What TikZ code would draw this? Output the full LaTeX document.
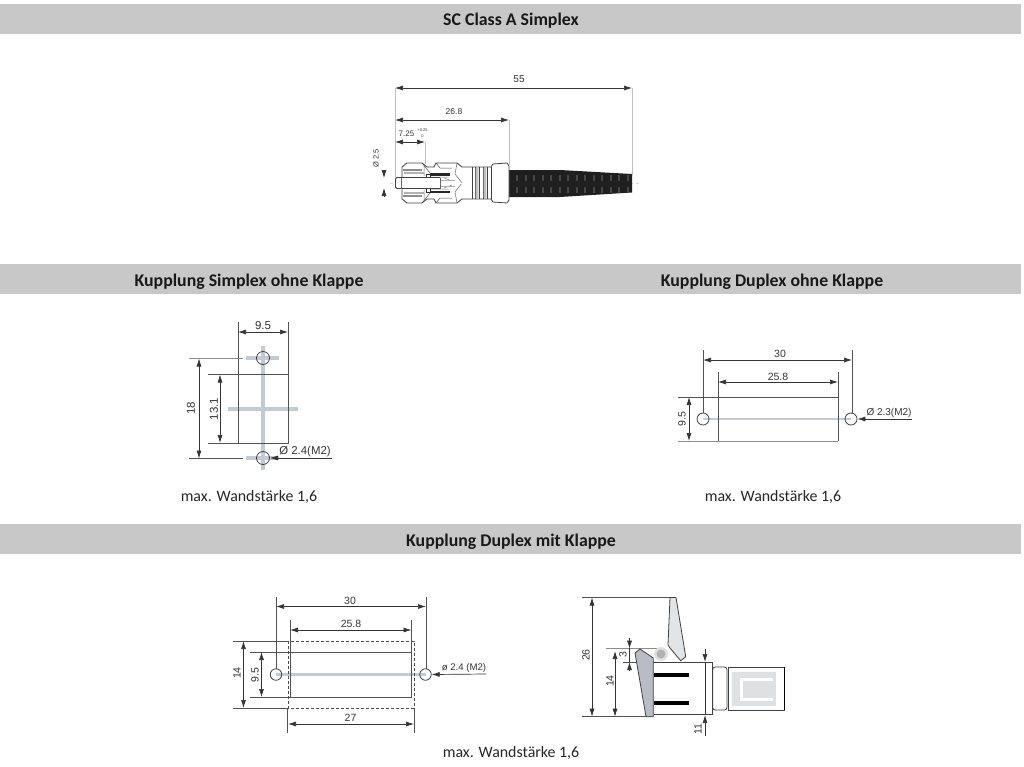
\documentclass[tikz,border=0pt]{standalone}
\usepackage{fontspec}
\setmainfont{Carlito}
\newfontfamily\dimfont{Liberation Sans}
\usetikzlibrary{arrows.meta}
\definecolor{barcol}{HTML}{C8C8C8}
\definecolor{dimcol}{HTML}{333333}
\definecolor{crosscol}{HTML}{C2CAD3}
\definecolor{flapa}{HTML}{E2E5E8}
\definecolor{flapb}{HTML}{B8BDC5}
\definecolor{inner}{HTML}{DDE1E4}
\tikzset{
  x=1pt,y=-1pt,
  headbar/.style={fill=barcol,draw=none},
  headtext/.style={font=\fontsize{17.8}{20}\selectfont\bfseries,text=black!90,inner sep=0pt},
  note/.style={font=\fontsize{15.9}{18}\selectfont,text=black!85,inner sep=0pt},
  dimtext/.style={font=\dimfont\fontsize{10.5}{12}\selectfont,text=dimcol,inner sep=0pt},
  dimsmall/.style={font=\dimfont\fontsize{8.5}{10}\selectfont,text=dimcol,inner sep=0pt},
  dimline/.style={draw=dimcol,line width=0.7pt,{Latex[length=8pt,width=5pt]}-{Latex[length=8pt,width=5pt]}},
  dimend/.style={draw=dimcol,line width=0.7pt,-{Latex[length=8pt,width=5pt]}},
  ext/.style={draw=dimcol!85,line width=0.8pt},
  extlight/.style={draw=black!25,line width=0.5pt},
  body/.style={draw=black!75,line width=0.8pt},
  cross/.style={draw=crosscol,line width=3.2pt},
  hole/.style={draw=black!75,line width=0.8pt,circle},
}
\newcommand{\halfbody}{%
  \draw[body,fill=white] (402,183) -- (402,167) -- (407,163) -- (422,163) -- (427,167) -- (434,167) -- (436,163) -- (457,163) -- (462,167) -- (491,167) -- (493,164) -- (507,163) -- (509,166) -- (509,183);
  \fill[black!45] (403,169) rectangle (422,171);
  \fill[black!30] (404,172) rectangle (424,174);
  \draw[black!70,line width=0.5pt] (422,163) -- (430,173) (436,163) -- (440,168) -- (452,168);
  \fill[black!85] (430,173) rectangle (450,175.5);
  \draw[black!50,line width=0.5pt] (431,177) -- (449,177) (444,178) -- (452,181);
  \draw[black!85,fill=white,line width=0.7pt] (426,174) rectangle (430,178);
  \draw[black!60,line width=0.5pt] (424,166) -- (424,176) (457,163) -- (455,174) -- (462,183);
}
\begin{document}
\begin{tikzpicture}
\useasboundingbox (0,0) rectangle (1024,766);
% header bars
\fill[headbar] (0,4) rectangle (1021,34);
\fill[headbar] (0,264) rectangle (1021,294);
\fill[headbar] (0,524) rectangle (1021,554);
\node[headtext] (h1) at (511,21) {SC Class A Simplex};
\node[headtext] (h2) at (249,282) {Kupplung Simplex ohne Klappe};
\node[headtext] (h3) at (772,282) {Kupplung Duplex ohne Klappe};
\node[headtext] (h4) at (511,542) {Kupplung Duplex mit Klappe};
\node[note] (n1) at (249,497) {max. Wandstärke 1,6};
\node[note] (n2) at (773,497) {max. Wandstärke 1,6};
\node[note] (n3) at (511,753) {max. Wandstärke 1,6};

% ===== SC connector =====
\draw[extlight] (395,88) -- (395,178) (632,88) -- (632,175) (509,120) -- (509,165) (425,142) -- (425,164);
\draw[draw=black!15,line width=0.4pt,dashed] (390,183) -- (640,183);
\draw[dimline] (395,88) -- (632,88);
\draw[dimline] (395,120) -- (509,120);
\draw[dimline] (395,142) -- (425,142);
\node[dimtext,font=\dimfont\fontsize{10}{12}\selectfont] (d55) at (519,79) {55};
\node[dimsmall] (d268) at (454,111.5) {26.8};
\node[dimsmall,font=\dimfont\fontsize{8}{10}\selectfont] (d725) at (406.5,133.5) {7.25};
\node[dimsmall,font=\dimfont\fontsize{4}{4.5}\selectfont] (d725t) at (422.5,130.5) {+0.25};
\node[dimsmall,font=\dimfont\fontsize{4}{4.5}\selectfont] (d725b) at (422.5,136.5) {0};
\node[dimsmall,rotate=90,font=\dimfont\fontsize{7.5}{9}\selectfont] (d25) at (376,158) {Ø 2.5};
\draw[dimend] (384,170) -- (384,178);
\draw[dimend] (384,196) -- (384,188);
% cable
\fill[black!88] (509,170) -- (560,170) -- (632,174) -- (632,192.5) -- (560,197) -- (509,197) -- cycle;
\foreach \xx in {516,524.5,...,628}{
  \fill[black!72] (\xx,175) rectangle ++(2.4,6);
  \fill[black!72] (\xx,187) rectangle ++(2.4,6);
}
% body
\halfbody
\begin{scope}[shift={(0,366)},y=1pt]
\halfbody
\end{scope}
\draw[white,line width=1pt] (403,183) -- (508,183);
\draw[black!30,line width=0.4pt] (441,180) -- (455,180) (441,186) -- (455,186);
\draw[body,line width=0.6pt] (472,167) -- (472,199) (475,167) -- (475,199) (479,167) -- (479,199) (483,167) -- (483,199) (487,167) -- (487,199) (491,167) -- (491,199);
\fill[black!25] (475.6,168) rectangle (478.4,198) (483.6,168) rectangle (486.4,198);
\draw[body,fill=white] (440,177.5) -- (397,177.5) -- (395.5,179) -- (395.5,187) -- (397,188.5) -- (440,188.5);
\draw[black!60,line width=0.5pt] (401,177.5) -- (401,188.5) (440,177.5) -- (440,188.5);

% ===== Simplex coupler =====
\draw[cross] (263,346) -- (263,470);
\draw[cross] (228,409) -- (298,409);
\draw[cross] (246,358) -- (279,358);
\draw[cross] (246,458) -- (279,458);
\draw[ext] (238,322) -- (238,443) -- (288,443) -- (288,322);
\draw[ext] (208,374.5) -- (288,374.5);
\draw[ext] (208,443) -- (238,443);
\draw[draw=black!45,line width=0.7pt] (189,358.5) -- (243,358.5);
\draw[ext] (189,458.5) -- (243,458.5);
\node[hole] (s1) at (263,358) [minimum size=13pt,inner sep=0pt] {};
\node[hole] (s2) at (263,458) [minimum size=13pt,inner sep=0pt] {};
\draw[dimline] (238,332) -- (288,332);
\draw[dimline] (199,358.5) -- (199,458.5);
\draw[dimline] (220,374.5) -- (220,443);
\draw[dimend] (332,458) -- (s2.east);
\node[dimtext,font=\dimfont\fontsize{11.5}{13}\selectfont] (t95a) at (263,326) {9.5};
\node[dimtext,rotate=90,font=\dimfont\fontsize{11.5}{13}\selectfont] (t18) at (191,408) {18};
\node[dimtext,rotate=90,font=\dimfont\fontsize{11.5}{13}\selectfont] (t131) at (214,409) {13.1};
\node[dimtext,font=\dimfont\fontsize{11.4}{13}\selectfont] (t24a) at (305,452) {Ø 2.4(M2)};

% ===== Duplex coupler =====
\draw[draw=crosscol,line width=2.6pt] (703,419) -- (851,419);
\draw[ext] (703,350) -- (703,413) (852,350) -- (852,413);
\draw[ext] (718,372) -- (718,441) (838,372) -- (838,441);
\draw[ext] (678,397) -- (838,397);
\draw[draw=black!45,line width=0.7pt] (678,441) -- (838,441);
\node[hole,minimum size=12pt,inner sep=0pt] (d1) at (703,419) {};
\node[hole,minimum size=12pt,inner sep=0pt] (d2) at (851,419) {};
\draw[dimline] (703,360) -- (852,360);
\draw[dimline] (718,382) -- (838,382);
\draw[dimline] (689,397) -- (689,441);
\draw[dimend] (912,419) -- (d2.east);
\node[dimtext] (t30a) at (780,354) {30};
\node[dimtext] (t258a) at (778,377) {25.8};
\node[dimtext,rotate=90] (t95b) at (682,419) {9.5};
\node[dimtext,font=\dimfont\fontsize{10}{12}\selectfont] (t23) at (889,413) {Ø 2.3(M2)};

% ===== Duplex with flap, front =====
\draw[draw=crosscol,line width=2.6pt] (276,674.5) -- (425.5,674.5);
\draw[ext] (276,597) -- (276,669) (426,597) -- (426,669);
\draw[ext] (290,620) -- (290,697) (411.5,620) -- (411.5,697);
\draw[ext] (250,652) -- (411.5,652) (250,697) -- (411.5,697);
\draw[ext] (233,641) -- (288,641) (233,708) -- (288,708);
\draw[draw=black!70,line width=0.6pt,densely dashed] (288,641) rectangle (414,708);
\draw[ext] (287,708) -- (287,733) (414,708) -- (414,733);
\node[hole,minimum size=11.5pt,inner sep=0pt] (k1) at (276,674.5) {};
\node[hole,minimum size=11.5pt,inner sep=0pt] (k2) at (425.5,674.5) {};
\draw[dimline] (276,606.5) -- (426,606.5);
\draw[dimline] (290,630) -- (411.5,630);
\draw[dimline] (243.5,641) -- (243.5,708);
\draw[dimline] (261.5,652) -- (261.5,697);
\draw[dimline] (288,724) -- (414,724);
\draw[dimend] (486,674) -- (k2.east);
\node[dimtext] (t30b) at (350,601) {30};
\node[dimtext] (t258b) at (351,624) {25.8};
\node[dimtext,rotate=90] (t14a) at (237,673) {14};
\node[dimtext,rotate=90] (t95c) at (255,675) {9.5};
\node[dimtext] (t27) at (350.5,718) {27};
\node[dimtext,font=\dimfont\fontsize{9.6}{12}\selectfont] (t24b) at (464,668.5) {ø 2.4 (M2)};

% ===== Duplex with flap, side =====
\draw[ext] (582,597.5) -- (670,597.5) (582,716.7) -- (652,716.7);
\draw[draw=black!45,line width=0.6pt] (606,648.7) -- (660,648.7);
\draw[ext] (623,662) -- (655,662);
\fill[black!12] (661,654) circle (7);
\fill[black!30] (661,654) circle (4.5);
\draw[body,fill=flapa] (670,597.5) -- (676,597.5) -- (685.7,656.7) -- (680.7,660.7) -- (670,648) -- (668,645) -- cycle;
\draw[body] (654,662) -- (712,662) -- (712,714.7) -- (654,714.7);
\draw[draw=black,line width=3.2pt] (654,675) -- (689,675) (654,703) -- (689,703);
\draw[body,fill=flapb] (635,653) -- (640,649) -- (653.3,658) -- (653.3,716.7) -- (646,716.7) -- cycle;
\draw[body,rounded corners=2.5pt] (712.7,667) rectangle (727,710);
\fill[inner] (732,672) rectangle (776,706);
\draw[white,line width=3pt] (773,679.5) -- (741,679.5) -- (741,699) -- (773,699);
\draw[body] (784.5,667) -- (728,667) -- (728,710) -- (784.5,710);
\draw[draw=black,line width=1.6pt] (784.5,667) -- (784.5,710);
\draw[dimline] (592,597.5) -- (592,716.7);
\draw[dimline] (615,651) -- (615,716.7);
\draw[dimend] (629.5,638) -- (629.5,648.7);
\draw[dimend] (629.5,671) -- (629.5,662);
\draw[draw=dimcol,line width=0.6pt] (629.5,648) -- (629.5,662);
\draw[dimend] (705,649) -- (705,662);
\draw[draw=dimcol,line width=0.6pt] (705,662) -- (705,714);
\draw[dimend] (705,736) -- (705,715);
\node[dimtext,rotate=90] (t26) at (586,655) {26};
\node[dimtext,rotate=90] (t14b) at (610,681) {14};
\node[dimtext,rotate=90] (t3) at (623,655) {3};
\node[dimtext,rotate=90] (t11) at (698,729) {11};
\end{tikzpicture}
\end{document}
